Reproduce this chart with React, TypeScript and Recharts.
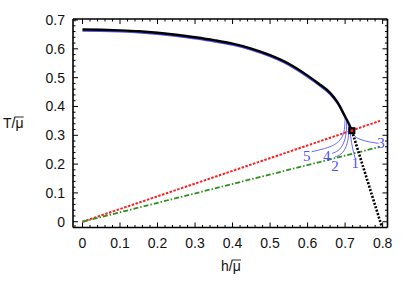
import { ComposedChart, Line, Scatter, XAxis, YAxis } from 'recharts'

// phase boundary T(h), black thick curve
const boundaryH = [0, 0.05, 0.1, 0.15, 0.2, 0.25, 0.3, 0.35, 0.4, 0.45, 0.5, 0.55, 0.6, 0.63, 0.66, 0.68, 0.7, 0.71, 0.718]
const boundaryT = [0.667, 0.666, 0.664, 0.661, 0.656, 0.649, 0.64, 0.63, 0.618, 0.601, 0.578, 0.548, 0.507, 0.479, 0.447, 0.414, 0.365, 0.34, 0.316]

// blue approximation running just under the black one
const blueH = [0, 0.05, 0.1, 0.15, 0.2, 0.25, 0.3, 0.35, 0.4, 0.45, 0.5, 0.55, 0.6, 0.63, 0.66, 0.68, 0.7]
const blueT = [0.662, 0.661, 0.659, 0.656, 0.651, 0.644, 0.635, 0.625, 0.613, 0.596, 0.573, 0.543, 0.502, 0.474, 0.442, 0.409, 0.362]

// blue branches near the tricritical point
const branch5 = { h: [0.7, 0.698, 0.69, 0.672, 0.645, 0.611], t: [0.362, 0.32, 0.29, 0.268, 0.254, 0.243] }
const branch4 = { h: [0.704, 0.703, 0.696, 0.682, 0.665], t: [0.352, 0.31, 0.273, 0.248, 0.237] }
const branch2 = { h: [0.708, 0.709, 0.703, 0.69, 0.673], t: [0.344, 0.3, 0.262, 0.236, 0.225] }
const branch1 = { h: [0.712, 0.715, 0.72, 0.727], t: [0.333, 0.295, 0.255, 0.22] }
const branch3 = { h: [0.716, 0.724, 0.74, 0.765, 0.789], t: [0.322, 0.3, 0.286, 0.277, 0.272] }

const firstOrderH = [0.718, 0.798]
const firstOrderT = [0.316, -0.018]

const redH = [0, 0.793]
const redT = [0, 0.35]
const greenH = [0, 0.793]
const greenT = [0, 0.26]

const pointH = [0.718]
const pointT = [0.316]

const labelText = ['5', '4', '2', '1', '3']
const labelH = [0.598, 0.651, 0.673, 0.727, 0.796]
const labelT = [0.231, 0.231, 0.194, 0.206, 0.274]

const xTicks = [0, 0.1, 0.2, 0.3, 0.4, 0.5, 0.6, 0.7, 0.8]
const yTicks = [0, 0.1, 0.2, 0.3, 0.4, 0.5, 0.6, 0.7]

const xDomain = [-0.0253, 0.813]
const yDomain = [-0.02, 0.7035]

const zip = (h: number[], t: number[]) => h.map((v, i) => ({ h: v, T: t[i] }))

// minor ticks every 0.02, majors come from xTicks / yTicks
const minorSteps = (from: number, to: number) => {
  const out: number[] = []
  for (let i = Math.round(from * 50); i <= Math.round(to * 50); i++) out.push(i / 50)
  return out
}
const xMinor = minorSteps(-0.02, 0.8)
const yMinor = minorSteps(0, 0.7)

const isMajor = (v: number, majors: number[]) => majors.some((m) => Math.abs(m - v) < 1e-6)
const fmt = (v: number) => (Math.abs(v) < 1e-9 ? '0' : v.toFixed(1))

const FONT = '"Liberation Sans", Arial, sans-serif'
const BLUE = '#4f4ff5'
const INK = '#111'

function BottomTick(props: any) {
  const { x, y, payload } = props
  const major = isMajor(payload.value, xTicks)
  return (
    <g>
      <line x1={x} x2={x} y1={y} y2={y - (major ? 5 : 2.5)} stroke="#000" strokeWidth={1} />
      {major && (
        <text x={x} y={y + 20} textAnchor="middle" fontSize={14} fontFamily={FONT} fill={INK}>
          {fmt(payload.value)}
        </text>
      )}
    </g>
  )
}

function TopTick(props: any) {
  const { x, y, payload } = props
  const major = isMajor(payload.value, xTicks)
  return <line x1={x} x2={x} y1={y} y2={y + (major ? 5 : 2.5)} stroke="#000" strokeWidth={1} />
}

function LeftTick(props: any) {
  const { x, y, payload } = props
  const major = isMajor(payload.value, yTicks)
  return (
    <g>
      <line x1={x} x2={x + (major ? 5 : 2.5)} y1={y} y2={y} stroke="#000" strokeWidth={1} />
      {major && (
        <text x={x - 8} y={y + 5} textAnchor="end" fontSize={14} fontFamily={FONT} fill={INK}>
          {fmt(payload.value)}
        </text>
      )}
    </g>
  )
}

function RightTick(props: any) {
  const { x, y, payload } = props
  const major = isMajor(payload.value, yTicks)
  return <line x1={x} x2={x - (major ? 5 : 2.5)} y1={y} y2={y} stroke="#000" strokeWidth={1} />
}

// "X/μ" with a bar over μ
function Title({ x, y, main, mainW }: { x: number; y: number; main: string; mainW: number }) {
  return (
    <g>
      <text x={x} y={y} fontSize={14} fontFamily={FONT} fill={INK}>
        {main}/μ
      </text>
      <line x1={x + mainW + 3} x2={x + mainW + 12.2} y1={y - 11} y2={y - 11} stroke={INK} strokeWidth={0.9} />
    </g>
  )
}

function CriticalPoint(props: any) {
  const { cx, cy } = props
  return (
    <g>
      <rect x={cx - 3.5} y={cy - 3.5} width={7} height={7} fill="#000" />
      <rect x={cx - 1.3} y={cy - 1.3} width={2.6} height={2.6} fill="#ff2020" />
    </g>
  )
}

function BranchLabel(props: any) {
  const { cx, cy, payload } = props
  return (
    <text x={cx} y={cy + 5.5} textAnchor="middle" fontSize={15} fontFamily='"Liberation Serif", "Times New Roman", serif' fill={BLUE}>
      {payload.label}
    </text>
  )
}

const branches = [branch5, branch4, branch2, branch1, branch3]
const labels = labelText.map((s, i) => ({ h: labelH[i], T: labelT[i], label: s }))

export default function App() {
  return (
    <div style={{ position: 'absolute', left: 0, top: 0, width: 415, height: 292, background: '#fff' }}>
      <ComposedChart width={415} height={292} margin={{ top: 18, right: 26.5, bottom: 0, left: 0 }}>
        <XAxis
          xAxisId={0}
          dataKey="h"
          type="number"
          domain={xDomain}
          allowDataOverflow
          ticks={xMinor}
          interval={0}
          tick={<BottomTick />}
          tickLine={false}
          tickSize={0}
          tickMargin={0}
          height={64.5}
          axisLine={{ stroke: '#000', strokeWidth: 1.6 }}
          label={{ content: () => <Title x={221} y={271} main="h" mainW={7.8} /> }}
        />
        <XAxis
          xAxisId="top"
          orientation="top"
          dataKey="h"
          type="number"
          domain={xDomain}
          allowDataOverflow
          ticks={xMinor}
          interval={0}
          tick={<TopTick />}
          tickLine={false}
          tickSize={0}
          tickMargin={0}
          height={1}
          axisLine={{ stroke: '#000', strokeWidth: 1.6 }}
        />
        <YAxis
          yAxisId={0}
          dataKey="T"
          type="number"
          domain={yDomain}
          allowDataOverflow
          ticks={yMinor}
          interval={0}
          tick={<LeftTick />}
          tickLine={false}
          tickSize={0}
          tickMargin={0}
          width={73}
          axisLine={{ stroke: '#000', strokeWidth: 1.6 }}
          label={{ content: () => <Title x={3} y={128} main="T" mainW={8.5} /> }}
        />
        <YAxis
          yAxisId="right"
          orientation="right"
          dataKey="T"
          type="number"
          domain={yDomain}
          allowDataOverflow
          ticks={yMinor}
          interval={0}
          tick={<RightTick />}
          tickLine={false}
          tickSize={0}
          tickMargin={0}
          width={1}
          axisLine={{ stroke: '#000', strokeWidth: 1.6 }}
        />

        <Line data={zip(redH, redT)} dataKey="T" type="linear" stroke="#ff1f1f" strokeWidth={2} strokeDasharray="2.5 1.5" dot={false} isAnimationActive={false} />
        <Line data={zip(greenH, greenT)} dataKey="T" type="linear" stroke="#2f8f1f" strokeWidth={1.8} strokeDasharray="5 2 1.5 2" dot={false} isAnimationActive={false} />
        <Line data={zip(blueH, blueT)} dataKey="T" type="monotone" stroke={BLUE} strokeWidth={1.6} dot={false} isAnimationActive={false} />
        {branches.map((b, i) => (
          <Line
            key={i}
            data={zip(b.h, b.t)}
            dataKey="T"
            type="natural"
            stroke={BLUE}
            strokeOpacity={0.85}
            strokeWidth={1}
            dot={false}
            isAnimationActive={false}
          />
        ))}
        <Line data={zip(firstOrderH, firstOrderT)} dataKey="T" type="linear" stroke="#000" strokeWidth={2.6} strokeDasharray="2 1.6" dot={false} isAnimationActive={false} />
        <Line data={zip(boundaryH, boundaryT)} dataKey="T" type="monotone" stroke="#000" strokeWidth={2.4} dot={false} isAnimationActive={false} />
        <Scatter data={zip(pointH, pointT)} dataKey="T" shape={<CriticalPoint />} isAnimationActive={false} />
        <Scatter data={labels} dataKey="T" shape={<BranchLabel />} isAnimationActive={false} />
      </ComposedChart>
    </div>
  )
}
